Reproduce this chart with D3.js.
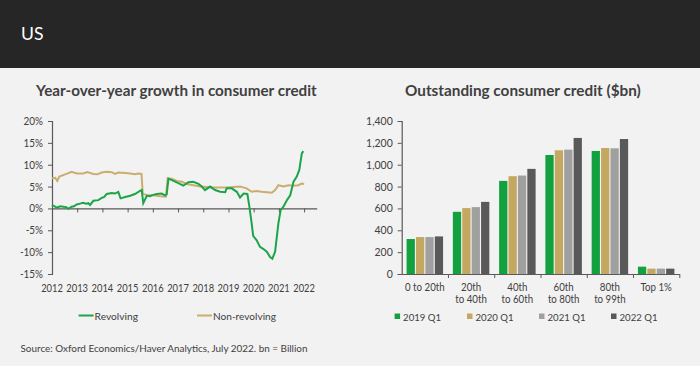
<!DOCTYPE html>
<html><head><meta charset="utf-8">
<script src="https://cdn.jsdelivr.net/npm/d3@7"></script>
<style>
html,body{margin:0;padding:0;background:#f2f2f2;}
svg{display:block;font-family:Lato,"Open Sans",sans-serif;}
</style></head>
<body>
<svg id="c" width="700" height="366"></svg>
<script>
// ---- Data ----
const yearTicks = [2012,2013,2014,2015,2016,2017,2018,2019,2020,2021,2022];
const pctTicks = [-15,-10,-5,0,5,10,15,20];
const revolving = [
[2012.00,0.8],[2012.09,0.5],[2012.19,0.2],[2012.32,0.5],[2012.45,0.4],[2012.56,0.3],[2012.65,-0.1],[2012.78,0.4],[2012.87,0.5],[2012.98,0.9],
[2013.11,1.1],[2013.24,1.3],[2013.35,1.1],[2013.44,1.2],[2013.51,0.8],[2013.64,1.75],[2013.84,1.9],[2013.97,2.4],
[2014.06,2.6],[2014.17,3.3],[2014.37,3.5],[2014.50,3.4],[2014.63,3.8],[2014.72,2.3],[2014.90,2.6],
[2015.10,2.9],[2015.29,3.3],[2015.49,4.0],[2015.56,4.2],[2015.62,1.2],[2015.76,2.9],[2015.89,2.8],
[2016.02,3.1],[2016.15,3.3],[2016.35,3.4],[2016.48,3.0],[2016.55,3.2],[2016.62,6.8],[2016.82,6.3],
[2017.01,5.8],[2017.21,5.2],[2017.41,6.0],[2017.61,6.1],[2017.81,5.6],[2017.94,5.0],
[2018.07,4.2],[2018.27,5.0],[2018.47,4.2],[2018.67,3.8],[2018.87,3.7],[2018.93,4.6],
[2019.13,4.6],[2019.33,3.8],[2019.46,2.5],[2019.60,3.4],[2019.75,3.3],[2019.83,0.4],[2019.92,-3.4],[2019.98,-6.3],
[2020.12,-7.3],[2020.25,-8.8],[2020.39,-9.3],[2020.52,-9.9],[2020.65,-11.1],[2020.74,-11.5],[2020.85,-9.9],[2020.92,-6.4],[2020.98,-3.4],
[2021.07,-0.4],[2021.18,0.4],[2021.32,1.9],[2021.45,3.0],[2021.58,6.1],[2021.71,7.3],[2021.81,8.8],[2021.91,12.6],[2021.97,13.1]
];
const nonRevolving = [
[2012.00,6.9],[2012.13,7.0],[2012.21,6.3],[2012.29,7.3],[2012.52,7.8],[2012.78,8.4],[2012.98,8.0],
[2013.24,8.0],[2013.40,8.3],[2013.64,7.9],[2013.80,7.8],[2013.97,8.2],
[2014.17,8.4],[2014.37,8.3],[2014.50,7.9],[2014.63,8.2],[2014.90,8.1],
[2015.10,8.0],[2015.29,7.8],[2015.43,8.0],[2015.55,7.9],[2015.60,3.3],[2015.76,3.1],
[2016.02,3.0],[2016.29,2.8],[2016.52,2.7],[2016.59,6.9],[2016.75,6.8],[2016.95,6.3],
[2017.15,6.1],[2017.34,5.6],[2017.61,5.3],[2017.87,5.0],[2018.40,4.8],[2018.93,4.8],
[2019.46,5.0],[2019.72,4.6],[2019.92,3.8],[2020.12,4.0],[2020.32,3.8],[2020.52,3.7],[2020.72,3.6],[2020.85,4.2],[2020.98,5.3],
[2021.18,5.0],[2021.38,5.3],[2021.58,5.2],[2021.77,5.3],[2021.91,5.7],[2022.00,5.6]
];
const categories = ["0 to 20th","20th to 40th","40th to 60th","60th to 80th","80th to 99th","Top 1%"];
const categoryLines = [["0 to 20th"],["20th","to 40th"],["40th","to 60th"],["60th","to 80th"],["80th","to 99th"],["Top 1%"]];
const seriesNames = ["2019 Q1","2020 Q1","2021 Q1","2022 Q1"];
const v2019 = [320,569,852,1089,1126,67];
const v2020 = [338,603,895,1132,1153,49];
const v2021 = [338,612,901,1138,1150,49];
const v2022 = [344,660,962,1245,1235,49];
const creditTicks = [0,200,400,600,800,1000,1200,1400];

const barColors = ["#13a13f","#c4a862","#a0a0a0","#595959"];
const lineGreen = "#1ca548", lineTan = "#c9ae6e";
const textCol = "#404040", axisCol = "#595959";

const svg = d3.select("#c");
function fit(sel, w){ const cur = sel.node().getComputedTextLength(); const fs = parseFloat(sel.attr("font-size")); sel.attr("font-size", fs*w/cur); return sel; }
function condense(sel, f){ sel.each(function(){ const L = this.getComputedTextLength(); d3.select(this).attr("textLength", L*f).attr("lengthAdjust","spacingAndGlyphs"); }); return sel; }

// header
svg.append("rect").attr("x",0).attr("y",0).attr("width",700).attr("height",68).attr("fill","#262626");
fit(svg.append("text").attr("x",21).attr("y",39.5).attr("font-size",19).attr("fill","#fff").text("US"),22.5);

// titles
fit(svg.append("text").attr("x",36).attr("y",95.5).attr("font-size",15).attr("font-weight","bold").attr("fill",textCol).text("Year-over-year growth in consumer credit"),281);
fit(svg.append("text").attr("x",405).attr("y",95.5).attr("font-size",15).attr("font-weight","bold").attr("fill",textCol).text("Outstanding consumer credit ($bn)"),236);

// ---- Left chart ----
const xL = d3.scaleLinear().domain([2012,2022.5]).range([52,316.7]);
const yL = d3.scaleLinear().domain([-15,20]).range([274,121]);
const gL = svg.append("g");
const yAxL = gL.append("g").attr("transform",`translate(${xL(2012)},0)`)
  .call(d3.axisLeft(yL).tickValues(pctTicks).tickFormat(d=>d+"%").tickSize(4).tickPadding(5));
const xAxL = gL.append("g").attr("transform",`translate(0,${yL(0)})`)
  .call(d3.axisBottom(xL).tickValues(yearTicks.slice(1)).tickFormat("").tickSize(4).tickSizeOuter(0));
[yAxL,xAxL].forEach(a=>{a.select(".domain").attr("stroke",axisCol).attr("stroke-width",1.2);a.selectAll(".tick line").attr("stroke",axisCol);a.selectAll("text").attr("fill",textCol).attr("font-size",11).attr("font-family","Lato,sans-serif");});
condense(yAxL.selectAll("text"),0.9);
condense(gL.selectAll(".yr").data(yearTicks).join("text").attr("class","yr")
  .attr("x",d=>xL(d)).attr("y",292).attr("text-anchor","middle").attr("font-size",11).attr("fill",textCol).text(d=>d),0.85);
const line = d3.line().x(d=>xL(d[0])).y(d=>yL(d[1]));
gL.append("path").datum(nonRevolving).attr("d",line).attr("fill","none").attr("stroke",lineTan).attr("stroke-width",2);
gL.append("path").datum(revolving).attr("d",line).attr("fill","none").attr("stroke",lineGreen).attr("stroke-width",2);

// left legend
const legL = [["Revolving",lineGreen,78.6],["Non-revolving",lineTan,197]];
legL.forEach(([t,c,x],i)=>{
  svg.append("line").attr("x1",x).attr("x2",x+15).attr("y1",315.5).attr("y2",315.5).attr("stroke",c).attr("stroke-width",2);
  fit(svg.append("text").attr("x",x+16).attr("y",319.5).attr("font-size",11).attr("fill",textCol).text(t), i===0?43.5:63);
});

// ---- Right chart ----
const x0 = d3.scaleBand().domain(categories).range([401.7,679.3]).padding(0);
const x1 = d3.scaleBand().domain(seriesNames).range([0,x0.bandwidth()]).paddingInner(0.12).paddingOuter(0.52);
const yR = d3.scaleLinear().domain([0,1400]).range([274,121]);
const gR = svg.append("g");
const seriesVals = [v2019,v2020,v2021,v2022];
seriesNames.forEach((s,si)=>{
  gR.selectAll(".b"+si).data(categories).join("rect")
    .attr("x",c=>x0(c)+x1(s)).attr("width",x1.bandwidth())
    .attr("y",(c,ci)=>yR(seriesVals[si][ci])).attr("height",(c,ci)=>yR(0)-yR(seriesVals[si][ci]))
    .attr("fill",barColors[si]);
});
const yAxR = gR.append("g").attr("transform",`translate(401.7,0)`)
  .call(d3.axisLeft(yR).tickValues(creditTicks).tickFormat(d3.format(",")).tickSize(4).tickPadding(5));
const xAxR = gR.append("g").attr("transform",`translate(0,${yR(0)})`)
  .call(d3.axisBottom(d3.scaleLinear().domain([0,6]).range([401.7,679.3])).tickValues([1,2,3,4,5,6]).tickFormat("").tickSize(4).tickSizeOuter(0));
[yAxR,xAxR].forEach(a=>{a.select(".domain").attr("stroke",axisCol).attr("stroke-width",1.2);a.selectAll(".tick line").attr("stroke",axisCol);a.selectAll("text").attr("fill",textCol).attr("font-size",11).attr("font-family","Lato,sans-serif");});
condense(yAxR.selectAll("text"),0.95);
categoryLines.forEach((ls,ci)=>{
  const cx = x0(categories[ci]) + x0.bandwidth()/2;
  ls.forEach((t,li)=>{
    condense(gR.append("text").attr("x",cx).attr("y",290.5+li*12.5).attr("text-anchor","middle").attr("font-size",11).attr("fill",textCol).text(t),0.88);
  });
});

// right legend
const legX = [394.6,467,539,611];
seriesNames.forEach((s,i)=>{
  svg.append("rect").attr("x",legX[i]).attr("y",313.5).attr("width",5.5).attr("height",5.5).attr("fill",barColors[i]);
  fit(svg.append("text").attr("x",legX[i]+8.5).attr("y",320.5).attr("font-size",11).attr("fill",textCol).text(s),38);
});

// source
fit(svg.append("text").attr("x",20.5).attr("y",352).attr("font-size",11).attr("fill",textCol).text("Source: Oxford Economics/Haver Analytics, July 2022. bn = Billion"),287.5);
</script>
</body></html>
